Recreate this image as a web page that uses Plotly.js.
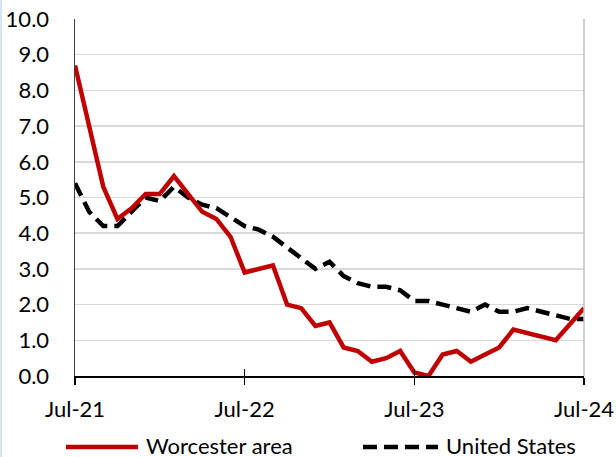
<!DOCTYPE html>
<html>
<head>
<meta charset="utf-8">
<script src="https://cdn.plot.ly/plotly-3.0.1.min.js"></script>
<style>
  html, body { margin: 0; padding: 0; background: #fff; }
  #wrap { position: relative; width: 616px; height: 457px; }
  #chart { position: absolute; left: 0; top: 0; width: 616px; height: 457px; }
  #edge { position: absolute; left: 0; top: 0; width: 2px; height: 457px; background: #d6e3f3; }
</style>
</head>
<body>
<div id="wrap"><div id="chart"></div><div id="edge"></div></div>
<script>
const months = [
  "Jul-21","Aug-21","Sep-21","Oct-21","Nov-21","Dec-21",
  "Jan-22","Feb-22","Mar-22","Apr-22","May-22","Jun-22",
  "Jul-22","Aug-22","Sep-22","Oct-22","Nov-22","Dec-22",
  "Jan-23","Feb-23","Mar-23","Apr-23","May-23","Jun-23",
  "Jul-23","Aug-23","Sep-23","Oct-23","Nov-23","Dec-23",
  "Jan-24","Feb-24","Mar-24","Apr-24","May-24","Jun-24",
  "Jul-24"
];
const worcester = [
  8.7, 7.0, 5.3, 4.4, 4.7, 5.1,
  5.1, 5.6, 5.1, 4.6, 4.4, 3.9,
  2.9, 3.0, 3.1, 2.0, 1.9, 1.4,
  1.5, 0.8, 0.7, 0.4, 0.5, 0.7,
  0.1, 0.0, 0.6, 0.7, 0.4, 0.6,
  0.8, 1.3, 1.2, 1.1, 1.0, 1.45,
  1.9
];
const unitedStates = [
  5.4, 4.6, 4.2, 4.2, 4.6, 5.0,
  4.9, 5.3, 5.0, 4.8, 4.7, 4.45,
  4.2, 4.1, 3.9, 3.6, 3.3, 3.0,
  3.2, 2.8, 2.6, 2.5, 2.5, 2.4,
  2.1, 2.1, 2.0, 1.9, 1.8, 2.0,
  1.8, 1.8, 1.9, 1.8, 1.7, 1.6,
  1.6
];
const xTicks = ["Jul-21","Jul-22","Jul-23","Jul-24"];
const seriesNames = ["Worcester area","United States"];

const FONT = "Lato, 'Open Sans', sans-serif";
const RED = "#C00000";

const traces = [
  {
    x: months, y: unitedStates, type: "scatter", mode: "lines",
    name: seriesNames[1], showlegend: false, hoverinfo: "skip",
    line: { color: "#000000", width: 4.5, dash: "14px,7px" }
  },
  {
    x: months, y: worcester, type: "scatter", mode: "lines",
    name: seriesNames[0], showlegend: false,
    line: { color: RED, width: 4.5 }
  },
  {
    x: months, y: worcester, type: "scatter", mode: "lines",
    xaxis: "x2", showlegend: false, hoverinfo: "skip",
    line: { width: 0 }, opacity: 0
  }
];

const layout = {
  width: 616, height: 457,
  margin: { l: 75, r: 32, t: 19, b: 81 },
  paper_bgcolor: "#ffffff", plot_bgcolor: "#ffffff",
  font: { family: FONT, size: 22, color: "#000000" },
  showlegend: false,
  xaxis: {
    type: "category", range: [0, 36],
    tickmode: "array", tickvals: xTicks, ticktext: xTicks,
    ticks: "outside", ticklen: 7, tickwidth: 1.5, tickcolor: "#000000",
    showgrid: false, zeroline: false,
    showline: true, linecolor: "#000000", linewidth: 1.5,
    tickfont: { family: FONT, size: 22, color: "#000000" },
    ticklabelstandoff: 6
  },
  xaxis2: {
    type: "category", range: [0, 36], overlaying: "x", anchor: "y",
    tickmode: "array", tickvals: xTicks, ticktext: ["", "", "", ""],
    ticks: "inside", ticklen: 7, tickwidth: 1.5, tickcolor: "#000000",
    showgrid: false, zeroline: false, showline: false, showticklabels: false
  },
  yaxis: {
    range: [0, 10], dtick: 1, tick0: 0, tickformat: ".1f",
    showgrid: true, gridcolor: "#d9d9d9", gridwidth: 1.5,
    zeroline: false, ticks: "",
    showline: true, linecolor: "#404040", linewidth: 1.5,
    tickfont: { family: FONT, size: 22, color: "#000000" },
    ticklabelstandoff: 20
  },
  shapes: [
    { type: "line", xref: "paper", yref: "paper", x0: 1, x1: 1, y0: 0, y1: 1,
      line: { color: "#bfbfbf", width: 1.5 } },
    { type: "line", xref: "paper", yref: "paper", x0: -0.0177, x1: 0.1238, y0: -0.199, y1: -0.199,
      line: { color: RED, width: 4.5 } },
    { type: "line", xref: "paper", yref: "paper", x0: 0.5658, x1: 0.7132, y0: -0.199, y1: -0.199,
      line: { color: "#000000", width: 4.5, dash: "14px,7px" } }
  ],
  annotations: [
    { xref: "paper", yref: "paper", x: 0.1375, y: -0.1935, xanchor: "left", yanchor: "middle",
      height: 24, valign: "middle", borderpad: 0,
      text: seriesNames[0], showarrow: false, font: { family: FONT, size: 22, color: "#000000" } },
    { xref: "paper", yref: "paper", x: 0.7269, y: -0.1935, xanchor: "left", yanchor: "middle",
      height: 24, valign: "middle", borderpad: 0,
      text: seriesNames[1], showarrow: false, font: { family: FONT, size: 22, color: "#000000" } }
  ]
};

Plotly.newPlot("chart", traces, layout, { displayModeBar: false, staticPlot: true });
</script>
</body>
</html>
